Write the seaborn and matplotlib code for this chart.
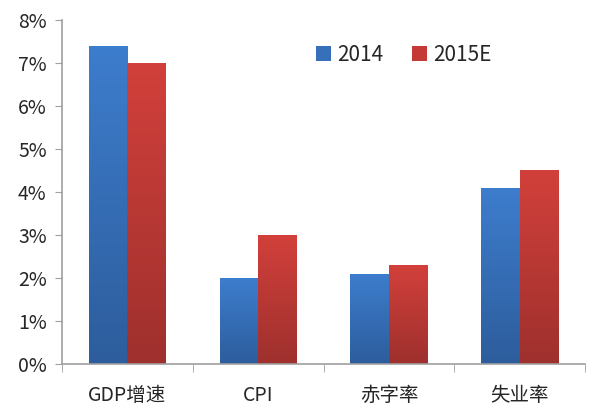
import numpy as np
import pandas as pd
import matplotlib
matplotlib.use("Agg")
import matplotlib.pyplot as plt
import seaborn as sns
from matplotlib.colors import LinearSegmentedColormap
from matplotlib.patches import Patch

categories = ["GDP增速", "CPI", "赤字率", "失业率"]
series = ["2014", "2015E"]
values_2014 = [7.4, 2.0, 2.1, 4.1]
values_2015 = [7.0, 3.0, 2.3, 4.5]
yticks = [0, 1, 2, 3, 4, 5, 6, 7, 8]
ytick_labels = ["0%", "1%", "2%", "3%", "4%", "5%", "6%", "7%", "8%"]

sns.set_style("white")
plt.rcParams['font.family'] = ['Noto Sans CJK SC', 'DejaVu Sans']

df = pd.DataFrame({
    "cat": categories * 2,
    "series": [series[0]] * 4 + [series[1]] * 4,
    "val": values_2014 + values_2015,
})

fig = plt.figure(figsize=(5.9, 4.07), dpi=100)
ax = fig.add_axes([0.105, 0.106, 0.887, 0.845])

top_cols = {"2014": "#3D7DCD", "2015E": "#D2403B"}
bot_cols = {"2014": "#2D5D9C", "2015E": "#9E302D"}

sns.barplot(data=df, x="cat", y="val", hue="series", ax=ax, width=0.59,
            palette=top_cols, legend=False, saturation=1)

ax.set_xlim(-0.5, 3.5)
ax.set_ylim(0, 8)

# gradient fill for bars
for i, container in enumerate(ax.containers):
    s = series[i]
    cmap = LinearSegmentedColormap.from_list(s, [bot_cols[s], top_cols[s]])
    for bar in container:
        x0, y0 = bar.get_x(), bar.get_y()
        w, h = bar.get_width(), bar.get_height()
        grad = np.linspace(0, 1, 256).reshape(-1, 1)
        im = ax.imshow(grad, extent=[x0, x0 + w, y0, y0 + h], origin="lower",
                       aspect="auto", cmap=cmap, zorder=bar.get_zorder())
        im.set_clip_path(bar)
        bar.set_facecolor("none")
        bar.set_edgecolor("none")
ax.set_xlim(-0.5, 3.5)
ax.set_ylim(0, 8)
ax.set_aspect("auto")

ax.set_yticks(yticks)
ax.set_yticklabels(ytick_labels, fontsize=14)
ax.set_xticks(range(4))
ax.set_xticklabels(categories, fontsize=14)
ax.tick_params(axis="x", which="major", length=0, pad=15)
ax.set_xticks([-0.5, 0.5, 1.5, 2.5, 3.5], minor=True)
ax.tick_params(axis="x", which="minor", length=6, color="#A0A0A0", direction="out", bottom=True)
ax.tick_params(axis="y", length=5, color="#A0A0A0", direction="out", left=True, pad=6)
ax.set_xlabel("")
ax.set_ylabel("")

for side in ["top", "right"]:
    ax.spines[side].set_visible(False)
for side in ["left", "bottom"]:
    ax.spines[side].set_color("#A0A0A0")
    ax.spines[side].set_linewidth(1.2)

handles = [Patch(facecolor="#3670BA", edgecolor="none"),
           Patch(facecolor="#C33A36", edgecolor="none")]
ax.legend(handles, series, loc="upper left", bbox_to_anchor=(0.45, 0.985), ncol=2,
          frameon=False, fontsize=15, handlelength=0.7, handleheight=0.7,
          handletextpad=0.3, columnspacing=1.4)

fig.savefig("out.png", dpi=100)
